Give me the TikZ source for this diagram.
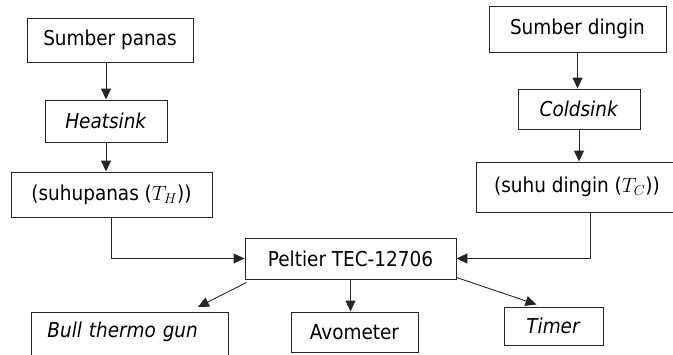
\documentclass[tikz,border=0pt]{standalone}
\usepackage{fontspec}
\setmainfont{DejaVu Sans Condensed}
\usetikzlibrary{arrows.meta,calc}
\begin{document}
\begin{tikzpicture}[x=1pt,y=-1pt,
  box/.style={draw=black!85, line width=0.9pt, inner sep=0pt, font=\fontsize{20.5}{24}\selectfont},
  arr/.style={draw=black!85, line width=0.9pt, -{Triangle[length=11pt,width=10pt]}}]
\useasboundingbox (0,0) rectangle (673,354);
\clip (0,0) rectangle (673,354);
\node[box, minimum width=166, minimum height=44] (sp) at (110,40) {Sumber panas};
\node[box, minimum width=122, minimum height=42] (hs) at (106,121) {\textit{Heatsink}};
\node[box, minimum width=201, minimum height=45] (th) at (111.5,194.5) {(suhupanas ($T_H$))};
\node[box, minimum width=177, minimum height=46] (sd) at (577.5,29) {Sumber dingin};
\node[box, minimum width=122, minimum height=40] (cs) at (579,109) {\textit{Coldsink}};
\node[box, minimum width=202, minimum height=50] (td) at (577,187) {(suhu dingin ($T_C$))};
\node[box, minimum width=211, minimum height=41] (pel) at (350.5,258.5) {Peltier TEC-12706};
\node[box, anchor=north west, minimum width=197, minimum height=46, text width=165, align=left, text depth=12pt] (bull) at (31,312) {\textit{Bull thermo gun}};
\node[box, minimum width=127, minimum height=40] (avo) at (354.5,332) {Avometer};
\node[box, minimum width=99, minimum height=38] (tim) at (553.5,326) {\textit{Timer}};
\draw[arr] (sp.south -| hs.north) -- (hs.north);
\draw[arr] (hs.south) -- (hs.south |- th.north);
\draw[arr] (th.south) |- (pel.west);
\draw[arr] (sd.south) -- (sd.south |- cs.north);
\draw[arr] (cs.south) -- (cs.south |- td.north);
\draw[arr] ([xshift=13pt]td.south) |- (pel.east);
\draw[arr] ($(pel.south west)+(2,3)$) -- ($(bull.north east)+(-31,-5)$);
\draw[arr] (pel.south) -- (pel.south |- avo.north);
\draw[arr] ($(pel.south east)+(0,-2)$) -- ($(tim.north)+(-17,-2)$);
\end{tikzpicture}
\end{document}
